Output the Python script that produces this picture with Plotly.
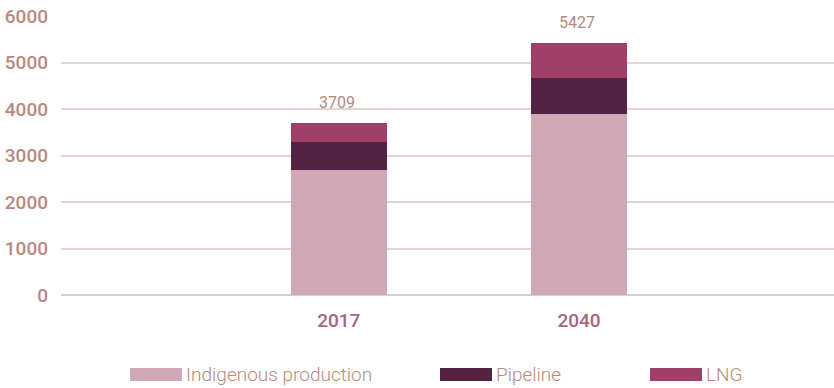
import plotly.graph_objects as go

# Gas supply by source (stacked), with totals shown above each bar
years = ["2017", "2040"]
indigenous = [2680, 3890]
pipeline = [610, 780]
lng = [419, 757]
totals = [a + b + c for a, b, c in zip(indigenous, pipeline, lng)]

series_names = ["Indigenous production", "Pipeline", "LNG"]
series_values = [indigenous, pipeline, lng]
series_colors = ["#d0a8b6", "#542243", "#a03f69"]

y_ticks = [0, 1000, 2000, 3000, 4000, 5000, 6000]

fig = go.Figure()
for name, vals, color in zip(series_names, series_values, series_colors):
    fig.add_trace(go.Bar(
        x=years, y=vals, name=name, marker_color=color,
        marker_line_width=0, width=0.4, showlegend=False,
    ))

# Total labels above the stacks (category axis positions are indices)
for i, tot in enumerate(totals):
    fig.add_annotation(
        x=i, y=tot, xref="x", yref="y", text=str(tot), showarrow=False,
        xanchor="center", yanchor="bottom", yshift=9, xshift=-2,
        font=dict(family="Roboto", size=16, color="#b08a80"),
    )

fig.update_layout(
    barmode="stack",
    width=834, height=388,
    margin=dict(l=61, r=0, t=16, b=93),
    plot_bgcolor="white", paper_bgcolor="white",
    bargap=0,
)
fig.update_xaxes(
    type="category", range=[-1.156, 2.061],
    showgrid=False, zeroline=False, showline=False,
    tickfont=dict(family="Roboto", size=19, color="#a8637e", weight=500),
    ticklabelstandoff=12,
)
fig.update_yaxes(
    range=[0, 6000], tickvals=y_ticks,
    showgrid=True, gridcolor="#e6d2d2", gridwidth=1.5,
    zeroline=True, zerolinecolor="#e0cccc", zerolinewidth=1.5,
    showline=False,
    tickfont=dict(family="Roboto", size=19, color="#b8897c", weight=500),
    ticklabelstandoff=12,
)

# Legend drawn as wide swatches with labels beneath the chart
legend_items = [(130, "Indigenous production"), (440, "Pipeline"), (650, "LNG")]
for (x0, label), color in zip(legend_items, series_colors):
    fig.add_shape(
        type="rect", xref="paper", yref="paper",
        x0=(x0 - 61) / 773, x1=(x0 + 52 - 61) / 773,
        y0=(295 - 381) / 279, y1=(295 - 368) / 279,
        fillcolor=color, line_width=0,
    )
    fig.add_annotation(
        xref="paper", yref="paper",
        x=(x0 + 54 - 61) / 773, y=(295 - 374.5) / 279,
        xanchor="left", yanchor="middle", showarrow=False,
        text=label,
        font=dict(family="Roboto", size=19, color="#b8897c", weight=300),
    )

fig.write_html("out.html")
